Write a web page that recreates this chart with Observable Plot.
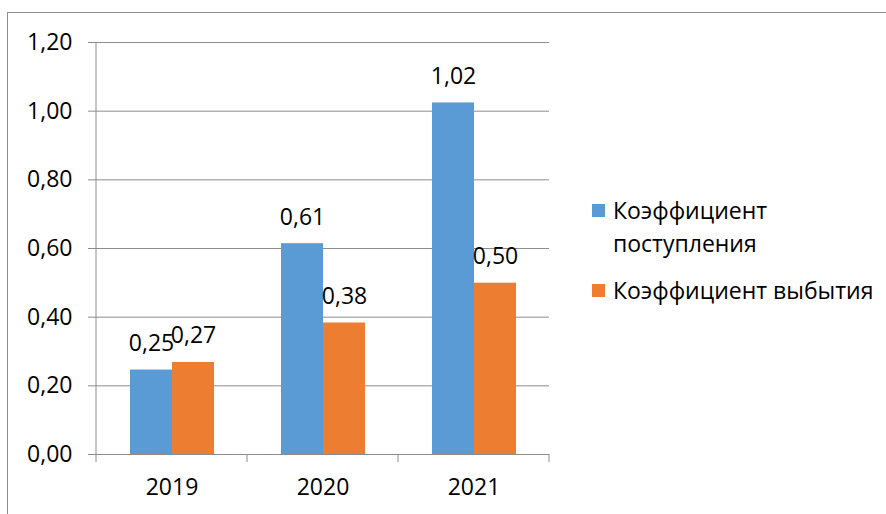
<!DOCTYPE html>
<html>
<head>
<meta charset="utf-8">
<script src="https://cdn.jsdelivr.net/npm/d3@7"></script>
<script src="https://cdn.jsdelivr.net/npm/@observablehq/plot@0.6"></script>
<style>
  html, body { margin: 0; padding: 0; background: #fff; }
  #wrap { position: relative; width: 886px; height: 514px; overflow: hidden; background: #fff; font-family: 'Open Sans', sans-serif; }
  #border { position: absolute; left: 7px; top: 12px; width: 940px; height: 560px; border: 1px solid #8c8c8c; box-sizing: border-box; }
  #chart { position: absolute; left: 0; top: 0; }
  #legend { position: absolute; left: 592px; top: 194px; font-size: 23px; color: #000; }
  .item { display: flex; align-items: flex-start; margin-bottom: 14px; }
  .sw { width: 13px; height: 13px; margin-top: 10px; margin-right: 8px; flex: none; }
  .lab { width: 275px; line-height: 33px; }
</style>
</head>
<body>
<div id="wrap">
  <div id="border"></div>
  <div id="chart"></div>
  <div id="legend"></div>
</div>
<script>
const years = ["2019", "2020", "2021"];
const series = ["Коэффициент поступления", "Коэффициент выбытия"];
const inflow = [0.246, 0.614, 1.024];
const outflow = [0.268, 0.383, 0.499];
const colors = ["#5B9BD5", "#ED7D31"];
const yTicks = [0, 0.2, 0.4, 0.6, 0.8, 1.0, 1.2];

const data = years.flatMap((y, i) => [
  {year: y, series: series[0], value: inflow[i]},
  {year: y, series: series[1], value: outflow[i]}
]);
const fmt = v => v.toFixed(2).replace(".", ",");
const gray = "#8c8c8c";

const plot = Plot.plot({
  width: 560,
  height: 514,
  marginLeft: 96,
  marginRight: 11,
  marginTop: 42,
  marginBottom: 60,
  style: {fontFamily: "'Open Sans', sans-serif", fontSize: "23px", color: "#000", background: "transparent"},
  fx: {domain: years, padding: 0, label: null},
  x: {domain: series, paddingInner: 0, paddingOuter: 0.756, axis: null},
  y: {domain: [0, 1.2], label: null},
  color: {domain: series, range: colors},
  marks: [
    Plot.ruleY(yTicks, {stroke: gray, strokeWidth: 1}),
    Plot.barY(data, {fx: "year", x: "series", y: "value", fill: "series"}),
    Plot.text(data, {fx: "year", x: "series", y: "value", text: d => fmt(d.value), lineAnchor: "bottom", dy: -19, fill: "#000"}),
    Plot.axisY({ticks: yTicks, tickFormat: fmt, tickSize: 8, tickPadding: 16, stroke: gray, fill: "#000", label: null}),
    Plot.axisFx({anchor: "bottom", tickSize: 0, tickPadding: 24, fill: "#000", label: null})
  ]
});
document.getElementById("chart").appendChild(plot);

// Excel-style axis line and category boundary ticks, positioned from the plot's own scales
const fx = plot.scale("fx");
const ys = plot.scale("y");
const svg = d3.select(plot);
const y0 = ys.apply(0), y1 = ys.apply(1.2);
const x0 = fx.apply(years[0]);
svg.append("line").attr("x1", x0).attr("x2", x0).attr("y1", y1).attr("y2", y0).attr("stroke", gray);
const bounds = years.map(y => fx.apply(y)).concat([fx.apply(years[years.length - 1]) + fx.bandwidth]);
bounds.forEach(b => {
  svg.append("line").attr("x1", b).attr("x2", b).attr("y1", y0).attr("y2", y0 + 8).attr("stroke", gray);
});

// Legend
const legend = d3.select("#legend");
series.forEach((s, i) => {
  const it = legend.append("div").attr("class", "item");
  it.append("div").attr("class", "sw").style("background", colors[i]);
  it.append("div").attr("class", "lab").text(s);
});
</script>
</body>
</html>
